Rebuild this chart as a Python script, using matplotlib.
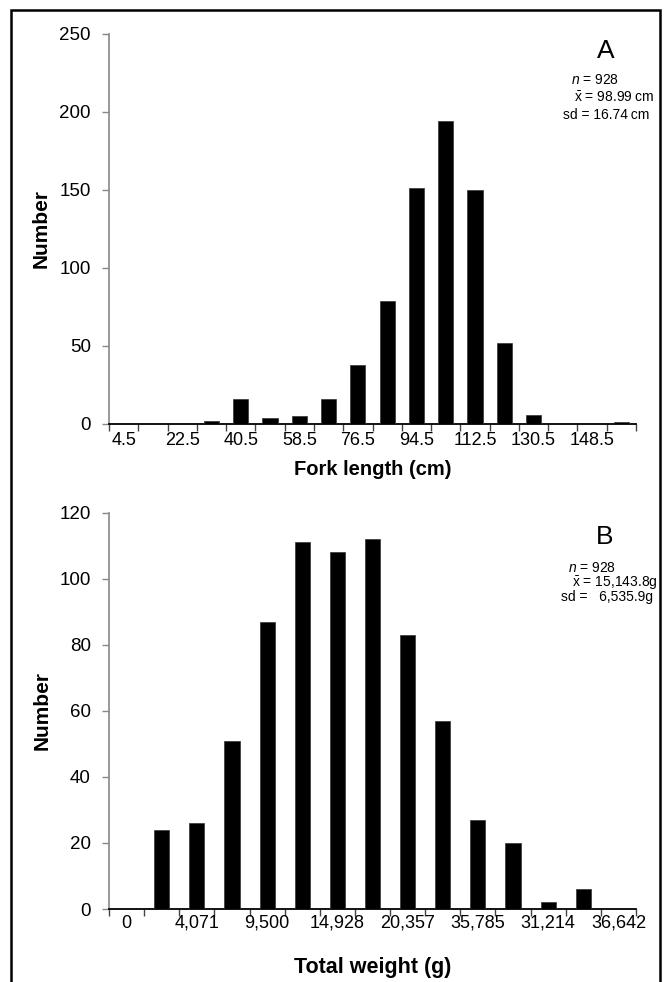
import matplotlib
matplotlib.use("Agg")
import matplotlib.pyplot as plt
from matplotlib.patches import Rectangle
import numpy as np

plt.rcParams['font.family'] = ['Liberation Sans', 'DejaVu Sans']
plt.rcParams['mathtext.fontset'] = 'custom'
plt.rcParams['mathtext.rm'] = 'Liberation Sans'
plt.rcParams['mathtext.it'] = 'Liberation Sans:italic'

# Panel A: fork length (cm), bins of 9 cm
fl_bins = ["4.5", "13.5", "22.5", "31.5", "40.5", "49.5", "58.5", "67.5", "76.5",
           "85.5", "94.5", "103.5", "112.5", "121.5", "130.5", "139.5", "148.5", "157.5"]
fl_counts = [0, 0, 0, 2, 16, 4, 5, 16, 38, 79, 151, 194, 150, 52, 6, 0, 0, 1]
fl_labels = ["4.5", "22.5", "40.5", "58.5", "76.5", "94.5", "112.5", "130.5", "148.5"]

# Panel B: total weight (g)
tw_counts = [0, 24, 26, 51, 87, 111, 108, 112, 83, 57, 27, 20, 2, 6, 0]
tw_labels = ["0", "4,071", "9,500", "14,928", "20,357", "35,785", "31,214", "36,642"]

W, H = 665, 982
fig = plt.figure(figsize=(W / 100, H / 100), dpi=100)

# outer border
fig.patches.append(Rectangle((11 / W, -0.05), (660 - 11) / W, 1.05 - 10 / H,
                             transform=fig.transFigure, fill=False,
                             edgecolor='black', linewidth=1.8))

def fx(px):
    return px / W

def fy(py):
    return 1 - py / H

def style_axes(ax, n, counts, labels, width, ymax, ystep, xlabel, xlsize, xlpad, tpad):
    x = np.arange(n)
    ax.bar(x, counts, width=width, color='black', edgecolor='#333333', linewidth=0.5, zorder=3)
    ax.set_xlim(-0.5, n - 0.5)
    ax.set_ylim(0, ymax)
    ax.set_yticks(np.arange(0, ymax + 1, ystep))
    ax.set_xticks(np.arange(-0.5, n, 1.0))
    ax.set_xticklabels([])
    ax.set_xticks(np.arange(0, n, 2)[:len(labels)], minor=True)
    ax.set_xticklabels(labels, minor=True)
    ax.tick_params(axis='x', which='minor', length=0, pad=tpad, labelsize=13)
    ax.tick_params(axis='x', which='major', length=5, width=1, color='#444444', direction='out')
    ax.tick_params(axis='y', length=5, width=1, color='#888888', direction='out', labelsize=13.5, pad=8)
    for s in ('top', 'right'):
        ax.spines[s].set_visible(False)
    ax.spines['left'].set_color('#888888')
    ax.spines['left'].set_linewidth(1.2)
    ax.spines['bottom'].set_color('black')
    ax.spines['bottom'].set_linewidth(1.3)
    ax.set_xlabel(xlabel, fontsize=xlsize, fontweight='bold', labelpad=xlpad)
    ax.set_ylabel("Number", fontsize=15, fontweight='bold', labelpad=6)

# Panel A
axA = fig.add_axes([fx(109), fy(424), fx(636) - fx(109), fy(34) - fy(424)])
style_axes(axA, len(fl_bins), fl_counts, fl_labels, 0.52, 250, 50, "Fork length (cm)", 14.5, 8, 6)

# Panel B
axB = fig.add_axes([fx(109), fy(909), fx(636) - fx(109), fy(512.7) - fy(909)])
style_axes(axB, len(tw_counts), tw_counts, tw_labels, 0.43, 120, 20, "Total weight (g)", 15.5, 18, 4)

# annotations
fig.text(fx(606), fy(51), "A", fontsize=19, ha='center', va='center')
fig.text(fx(571), fy(80), r"$\it{n}$ = 928", fontsize=10, ha='left', va='center')
fig.text(fx(574), fy(97.5), r"$\bar{\mathrm{x}}$ = 98.99" + "\u2009cm", fontsize=10, ha='left', va='center')
fig.text(fx(563), fy(115), "sd = 16.74\u2009cm", fontsize=10, ha='left', va='center')

fig.text(fx(605), fy(537), "B", fontsize=19, ha='center', va='center')
fig.text(fx(568), fy(568), r"$\it{n}$ = 928", fontsize=10, ha='left', va='center')
fig.text(fx(572), fy(583), r"$\bar{\mathrm{x}}$ = 15,143.8g", fontsize=10, ha='left', va='center')
fig.text(fx(561), fy(597), "sd =   6,535.9g", fontsize=10, ha='left', va='center')

fig.savefig("out.png", dpi=100)
